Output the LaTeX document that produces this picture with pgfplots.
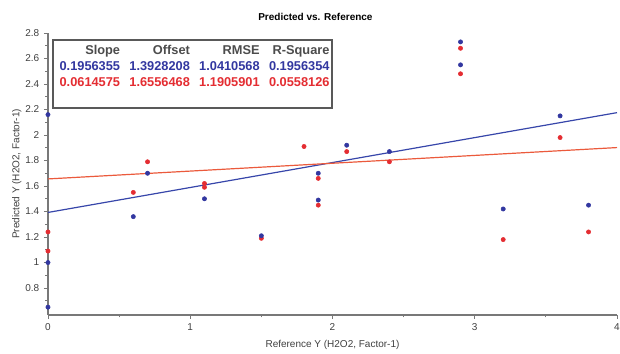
\documentclass[border=0pt]{standalone}
\usepackage{pgfplots}
\pgfplotsset{compat=1.18}
\usepackage{fontspec}
\setmainfont{Liberation Sans}
\definecolor{bpt}{RGB}{50,55,160}
\definecolor{rpt}{RGB}{228,45,50}
\definecolor{bln}{RGB}{55,70,170}
\definecolor{rln}{RGB}{235,90,60}
\definecolor{axg}{RGB}{120,120,120}
\begin{document}
\begin{tikzpicture}
\begin{axis}[
  name=ax,
  scale only axis, width=427pt, height=211.5pt,
  xmin=0, xmax=4, ymin=0.59, ymax=2.8,
  axis lines=left, axis line style={-, axg, line width=1.2pt},
  tick align=outside, tick style={axg, line width=0.6pt},
  xtick={0,1,2,3,4}, minor xtick={0.5,1.5,2.5,3.5},
  ytick={0.8,1,1.2,1.4,1.6,1.8,2,2.2,2.4,2.6,2.8},
  minor ytick={0.7,0.9,1.1,1.3,1.5,1.7,1.9,2.1,2.3,2.5,2.7},
  major tick length=3pt, minor tick length=2pt,
  tick label style={font=\fontsize{7.5}{9}\selectfont, text=black!75},
  /pgf/number format/assume math mode=true,
  yticklabel style={/pgf/number format/fixed},
  title={\textbf{Predicted vs. Reference}},
  title style={font=\fontsize{7.5}{9}\selectfont, at={(rel axis cs:0.47,1)}, yshift=0pt},
  xlabel={Reference Y (H2O2, Factor-1)},
  ylabel={Predicted Y (H2O2, Factor-1)},
  label style={font=\fontsize{7.5}{9}\selectfont, text=black!75},
  xlabel style={yshift=0pt},
  ylabel style={yshift=-4pt},
  clip=false,
]
\addplot[bln, line width=0.9pt] coordinates {(0,1.3928208) (4,2.1753628)};
\addplot[rln, line width=0.9pt] coordinates {(0,1.6556468) (4,1.9014768)};
\addplot[only marks, mark=*, mark size=1.6pt, rpt] coordinates {
 (0,1.24) (0,1.09) (0.6,1.55) (0.7,1.79) (1.1,1.62) (1.1,1.59) (1.5,1.19)
 (1.8,1.91) (1.9,1.66) (1.9,1.45) (2.1,1.87) (2.4,1.79) (2.9,2.68) (2.9,2.48)
 (3.2,1.18) (3.6,1.98) (3.8,1.24)};
\addplot[only marks, mark=*, mark size=1.6pt, bpt] coordinates {
 (0,2.16) (0,1.0) (0,0.65) (0.6,1.36) (0.7,1.70) (1.1,1.50) (1.5,1.21)
 (1.9,1.70) (1.9,1.49) (2.1,1.92) (2.4,1.87) (2.9,2.73) (2.9,2.55)
 (3.2,1.42) (3.6,2.15) (3.8,1.45)};
\node[anchor=north west, draw=black!65, line width=1.5pt, fill=white,
      inner xsep=2pt, inner ysep=3pt,
      font=\fontsize{9.6}{11.8}\selectfont\bfseries]
  at (rel axis cs:0.007,0.98) {%
  \begin{tabular}{@{\hspace{3pt}}r@{\hspace{7pt}}r@{\hspace{7pt}}r@{\hspace{7pt}}r@{}}
  \color{black!70}Slope & \color{black!70}Offset & \color{black!70}RMSE & \color{black!70}R-Square\\
  \color{bpt}0.1956355 & \color{bpt}1.3928208 & \color{bpt}1.0410568 & \color{bpt}0.1956354\\
  \color{rpt}0.0614575 & \color{rpt}1.6556468 & \color{rpt}1.1905901 & \color{rpt}0.0558126\\[10pt]
  \end{tabular}};
\end{axis}
\pgfresetboundingbox
\path ([xshift=-36pt,yshift=-29.25pt]ax.south west) rectangle ([xshift=2.25pt,yshift=24.75pt]ax.north east);
\end{tikzpicture}
\end{document}
